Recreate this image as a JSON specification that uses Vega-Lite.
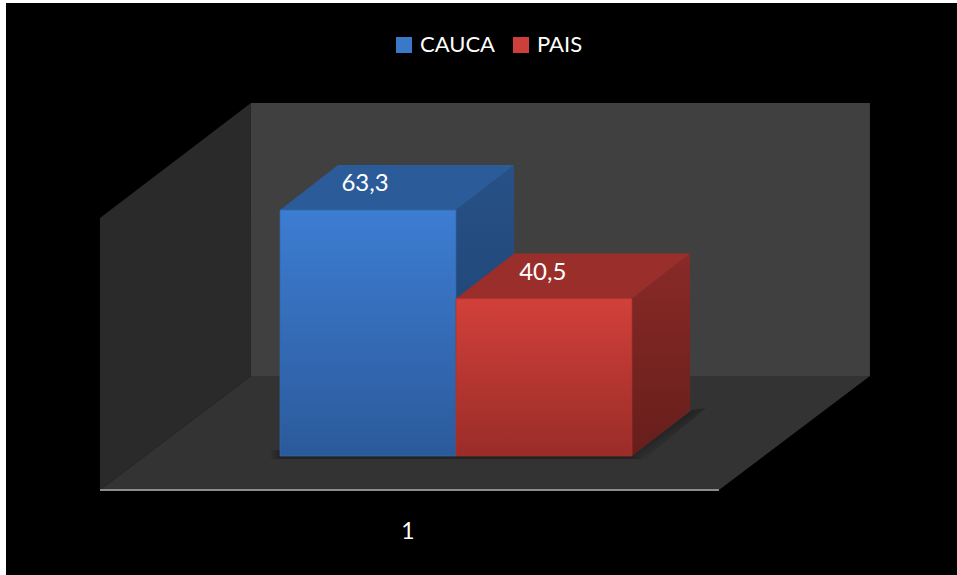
{
  "$schema": "https://vega.github.io/schema/vega-lite/v6.json",
  "width": 957,
  "height": 575,
  "autosize": {"type": "fit", "contains": "padding"},
  "padding": {"left": 6, "top": 3, "right": 0, "bottom": 0},
  "background": "#ffffff",
  "view": {"fill": "#000000", "stroke": null},
  "config": {"font": "Lato"},
  "datasets": {
    "barras": [
      {"serie": "CAUCA", "inicio": 0, "fin": 1, "centro": 0.5, "base": 0, "valor": 63.3, "etiqueta": "63,3"},
      {"serie": "PAIS", "inicio": 1, "fin": 2, "centro": 1.51, "base": 0, "valor": 40.5, "etiqueta": "40,5"}
    ],
    "caras": [
      {"cara": "fondo", "x": -0.165, "lo": 20.59, "hi": 90.84},
      {"cara": "fondo", "x": 3.352, "lo": 20.59, "hi": 90.84},
      {"cara": "lateral", "x": -1.023, "lo": -8.75, "hi": 61.25},
      {"cara": "lateral", "x": -0.165, "lo": 20.59, "hi": 90.84},
      {"cara": "piso", "x": -1.023, "lo": -8.75, "hi": -8.75},
      {"cara": "piso", "x": -0.165, "lo": -8.75, "hi": 20.59},
      {"cara": "piso", "x": 2.494, "lo": -8.75, "hi": 20.59},
      {"cara": "piso", "x": 3.352, "lo": 20.59, "hi": 20.59},
      {"cara": "borde", "x": -1.023, "lo": -8.75, "hi": -8.75},
      {"cara": "borde", "x": 2.494, "lo": -8.75, "hi": -8.75},
      {"cara": "sombra base", "x": -0.06, "lo": -0.8, "hi": 1.5},
      {"cara": "sombra base", "x": 2.06, "lo": -0.8, "hi": 1.5},
      {"cara": "sombra lado", "x": 2.0, "lo": 0, "hi": 0},
      {"cara": "sombra lado", "x": 2.08, "lo": -0.51, "hi": 2.83},
      {"cara": "sombra lado", "x": 2.341, "lo": 9.34, "hi": 11.84},
      {"cara": "sombra lado", "x": 2.42, "lo": 12.35, "hi": 12.35},
      {"cara": "CAUCA lado", "x": 1, "lo": 0, "hi": 63.3},
      {"cara": "CAUCA lado", "x": 1.33, "lo": 11.58, "hi": 74.88},
      {"cara": "CAUCA techo", "x": 0, "lo": 63.3, "hi": 63.3},
      {"cara": "CAUCA techo", "x": 0.33, "lo": 63.3, "hi": 74.88},
      {"cara": "CAUCA techo", "x": 1, "lo": 63.3, "hi": 74.88},
      {"cara": "CAUCA techo", "x": 1.33, "lo": 74.88, "hi": 74.88},
      {"cara": "PAIS lado", "x": 2, "lo": 0, "hi": 40.5},
      {"cara": "PAIS lado", "x": 2.33, "lo": 11.58, "hi": 52.08},
      {"cara": "PAIS techo", "x": 1, "lo": 40.5, "hi": 40.5},
      {"cara": "PAIS techo", "x": 1.33, "lo": 40.5, "hi": 52.08},
      {"cara": "PAIS techo", "x": 2, "lo": 40.5, "hi": 52.08},
      {"cara": "PAIS techo", "x": 2.33, "lo": 52.08, "hi": 52.08}
    ]
  },
  "encoding": {
    "x": {"type": "quantitative", "scale": {"domain": [-1.5568, 3.8466], "nice": false, "zero": false}, "axis": null},
    "y": {"type": "quantitative", "scale": {"domain": [-30.62, 116.57], "nice": false, "zero": false}, "axis": null}
  },
  "layer": [
    {"data": {"name": "caras"}, "transform": [{"filter": "datum.cara === 'fondo'"}],
     "mark": {"type": "area", "orient": "vertical", "color": "#404040"},
     "encoding": {"x": {"field": "x"}, "y": {"field": "hi"}, "y2": {"field": "lo"}}},
    {"data": {"name": "caras"}, "transform": [{"filter": "datum.cara === 'lateral'"}],
     "mark": {"type": "area", "orient": "vertical", "color": "#2a2a2a"},
     "encoding": {"x": {"field": "x"}, "y": {"field": "hi"}, "y2": {"field": "lo"}}},
    {"data": {"name": "caras"}, "transform": [{"filter": "datum.cara === 'piso'"}],
     "mark": {"type": "area", "orient": "vertical", "color": "#333333"},
     "encoding": {"x": {"field": "x"}, "y": {"field": "hi"}, "y2": {"field": "lo"}}},
    {"data": {"name": "caras"}, "transform": [{"filter": "datum.cara === 'borde'"}],
     "mark": {"type": "line", "color": "#8c8c8c", "strokeWidth": 2},
     "encoding": {"x": {"field": "x"}, "y": {"field": "hi"}}},
    {"data": {"name": "caras"}, "transform": [{"filter": "datum.cara === 'sombra base'"}],
     "mark": {"type": "area", "orient": "vertical", "color": {"gradient": "linear", "x1": 0, "y1": 0, "x2": 1, "y2": 0, "stops": [{"offset": 0, "color": "#333333"}, {"offset": 0.028, "color": "#232323"}, {"offset": 0.97, "color": "#232323"}, {"offset": 1, "color": "#2c2c2c"}]}},
     "encoding": {"x": {"field": "x"}, "y": {"field": "hi"}, "y2": {"field": "lo"}}},
    {"data": {"name": "caras"}, "transform": [{"filter": "datum.cara === 'sombra lado'"}],
     "mark": {"type": "area", "orient": "vertical", "color": {"gradient": "linear", "x1": 0.42, "y1": 0.42, "x2": 0.62, "y2": 0.62, "stops": [{"offset": 0, "color": "#212121"}, {"offset": 1, "color": "#333333"}]}},
     "encoding": {"x": {"field": "x"}, "y": {"field": "hi"}, "y2": {"field": "lo"}}},
    {"data": {"name": "caras"}, "transform": [{"filter": "datum.cara === 'CAUCA lado'"}],
     "mark": {"type": "area", "orient": "vertical", "color": {"gradient": "linear", "x1": 0, "y1": 0, "x2": 0, "y2": 1, "stops": [{"offset": 0, "color": "#275187"}, {"offset": 1, "color": "#1d3f6d"}]}},
     "encoding": {"x": {"field": "x"}, "y": {"field": "hi"}, "y2": {"field": "lo"}}},
    {"data": {"name": "caras"}, "transform": [{"filter": "datum.cara === 'CAUCA techo'"}],
     "mark": {"type": "area", "orient": "vertical", "color": "#2b5c99"},
     "encoding": {"x": {"field": "x"}, "y": {"field": "hi"}, "y2": {"field": "lo"}}},
    {"data": {"name": "caras"}, "transform": [{"filter": "datum.cara === 'PAIS lado'"}],
     "mark": {"type": "area", "orient": "vertical", "color": {"gradient": "linear", "x1": 0, "y1": 0, "x2": 0, "y2": 1, "stops": [{"offset": 0, "color": "#892a27"}, {"offset": 1, "color": "#661e1b"}]}},
     "encoding": {"x": {"field": "x"}, "y": {"field": "hi"}, "y2": {"field": "lo"}}},
    {"data": {"name": "caras"}, "transform": [{"filter": "datum.cara === 'PAIS techo'"}],
     "mark": {"type": "area", "orient": "vertical", "color": "#9a2e2a"},
     "encoding": {"x": {"field": "x"}, "y": {"field": "hi"}, "y2": {"field": "lo"}}},
    {"data": {"name": "barras"},
     "mark": {"type": "rect"},
     "encoding": {
       "x": {"field": "inicio"},
       "x2": {"field": "fin"},
       "y": {"field": "valor"},
       "y2": {"field": "base"},
       "color": {
         "field": "serie", "type": "nominal",
         "scale": {"domain": ["CAUCA", "PAIS"], "range": ["#3a78c9", "#cc3f3a"]},
         "legend": {"orient": "none", "legendX": 387, "legendY": 31, "direction": "horizontal", "title": null, "symbolType": "square", "symbolSize": 256, "symbolStrokeWidth": 0, "labelColor": "#ffffff", "labelFont": "Lato", "labelFontSize": 22, "columnPadding": 15, "labelOffset": 5}
       }
     }},
    {"data": {"name": "barras"}, "transform": [{"filter": "datum.serie === 'CAUCA'"}],
     "mark": {"type": "rect", "stroke": "#2f66ad", "strokeWidth": 1, "strokeOpacity": 0.7, "color": {"gradient": "linear", "x1": 0, "y1": 0, "x2": 0, "y2": 1, "stops": [{"offset": 0, "color": "#3d7dd2"}, {"offset": 1, "color": "#2b5a9b"}]}},
     "encoding": {"x": {"field": "inicio"}, "x2": {"field": "fin"}, "y": {"field": "valor"}, "y2": {"field": "base"}}},
    {"data": {"name": "barras"}, "transform": [{"filter": "datum.serie === 'PAIS'"}],
     "mark": {"type": "rect", "stroke": "#a8322e", "strokeWidth": 1, "strokeOpacity": 0.7, "color": {"gradient": "linear", "x1": 0, "y1": 0, "x2": 0, "y2": 1, "stops": [{"offset": 0, "color": "#d2403a"}, {"offset": 1, "color": "#9a2c28"}]}},
     "encoding": {"x": {"field": "inicio"}, "x2": {"field": "fin"}, "y": {"field": "valor"}, "y2": {"field": "base"}}},
    {"data": {"name": "barras"},
     "mark": {"type": "text", "color": "#ffffff", "font": "Lato", "fontSize": 24, "dx": -3, "dy": -26},
     "encoding": {"x": {"field": "centro"}, "y": {"field": "valor"}, "text": {"field": "etiqueta"}}},
    {"data": {"values": [{"categoria": "1", "x": 0.727, "y": -19.45}]},
     "mark": {"type": "text", "color": "#ffffff", "font": "Lato", "fontSize": 23},
     "encoding": {"x": {"field": "x"}, "y": {"field": "y"}, "text": {"field": "categoria"}}}
  ]
}
